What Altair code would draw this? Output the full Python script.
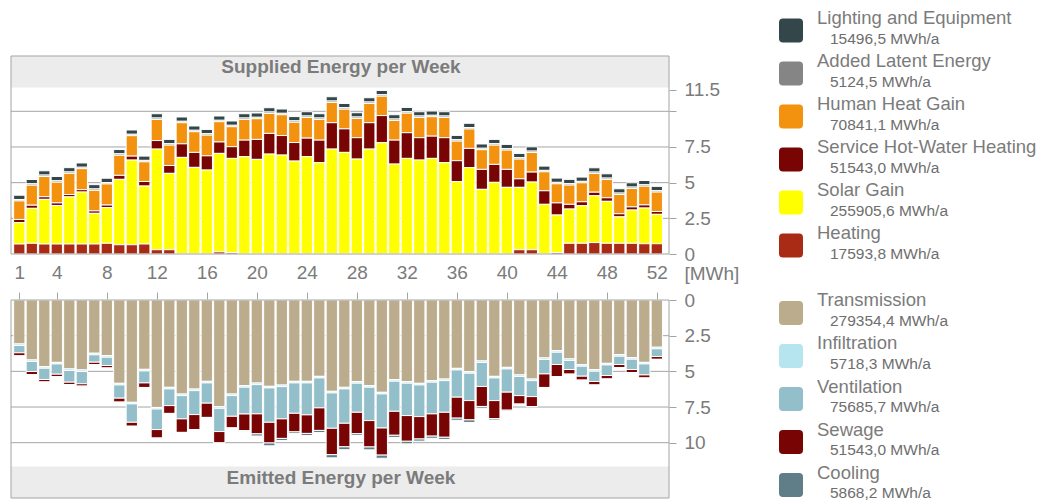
import altair as alt
import pandas as pd

# ---------------- data ----------------
WEEKS = list(range(1, 53))

HEATING = [0.7, 0.75, 0.7, 0.7, 0.7, 0.7, 0.7, 0.75, 0.65, 0.65,
           0.7, 0.3, 0.3, 0.03, 0.02, 0.02, 0.15, 0.1, 0, 0,
           0, 0, 0, 0, 0, 0, 0, 0, 0, 0,
           0, 0, 0, 0, 0, 0, 0, 0, 0, 0,
           0.3, 0.3, 0.03, 0.1, 0.75, 0.75, 0.8, 0.75, 0.75, 0.75,
           0.72, 0.72]
SOLAR = [1.5, 2.45, 3.13, 2.7, 3.3, 3.64, 2.15, 2.5, 4.58, 5.93,
         4.06, 7.05, 5.35, 6.74, 6.05, 5.86, 6.9, 6.6, 6.82, 6.63,
         7.0, 6.93, 6.51, 6.82, 6.4, 7.35, 7.12, 6.65, 7.35, 7.8,
         6.3, 6.7, 6.58, 6.7, 6.4, 5.07, 6.05, 4.53, 5.02, 4.67,
         4.37, 4.74, 3.45, 2.63, 2.4, 2.63, 3.28, 2.94, 1.85, 2.33,
         2.5, 2.06]
HOT_WATER = [0.22, 0.22, 0.18, 0.18, 0.17, 0.17, 0.17, 0.18, 0.28, 0.28,
             0.32, 0.6, 0.55, 0.95, 1.05, 1.0, 0.8, 0.82, 1.16, 1.4,
             1.45, 1.37, 1.3, 1.3, 1.58, 1.85, 1.65, 1.5, 1.85, 1.9,
             1.68, 1.8, 1.57, 1.56, 1.75, 1.47, 1.35, 1.4, 1.26, 1.26,
             0.6, 0.7, 0.95, 0.85, 0.33, 0.28, 0.25, 0.25, 0.22, 0.22,
             0.22, 0.2]
HUMAN = [1.3, 1.4, 1.42, 1.45, 1.48, 1.47, 1.44, 1.48, 1.41, 1.43,
         1.38, 1.48, 1.43, 1.48, 1.45, 1.45, 1.42, 1.4, 1.45, 1.45,
         1.4, 1.46, 1.42, 1.45, 1.45, 1.42, 1.38, 1.35, 1.35, 1.36,
         1.38, 1.37, 1.42, 1.36, 1.42, 1.37, 1.36, 1.38, 1.35, 1.35,
         1.38, 1.37, 1.33, 1.34, 1.35, 1.33, 1.31, 1.28, 1.35, 1.29,
         1.31, 1.36]
LATENT = [0.1, 0.1, 0.1, 0.1, 0.1, 0.1, 0.1, 0.1, 0.1, 0.1,
          0.1, 0.1, 0.1, 0.1, 0.1, 0.1, 0.1, 0.1, 0.1, 0.1,
          0.1, 0.1, 0.1, 0.1, 0.1, 0.1, 0.1, 0.1, 0.1, 0.1,
          0.1, 0.1, 0.1, 0.1, 0.1, 0.1, 0.1, 0.1, 0.1, 0.1,
          0.1, 0.1, 0.1, 0.1, 0.1, 0.1, 0.1, 0.1, 0.1, 0.1,
          0.1, 0.1]
LIGHTING = [0.3, 0.3, 0.3, 0.3, 0.3, 0.3, 0.3, 0.3, 0.3, 0.3,
            0.3, 0.3, 0.3, 0.3, 0.3, 0.3, 0.3, 0.3, 0.3, 0.3,
            0.3, 0.3, 0.3, 0.3, 0.3, 0.3, 0.3, 0.3, 0.3, 0.3,
            0.3, 0.3, 0.3, 0.3, 0.3, 0.3, 0.3, 0.3, 0.3, 0.3,
            0.3, 0.3, 0.3, 0.3, 0.3, 0.3, 0.3, 0.3, 0.3, 0.3,
            0.3, 0.3]

TRANSMISSION = [3.08, 4.2, 4.67, 4.37, 4.83, 4.9, 3.73, 3.9, 5.84, 7.17,
                4.86, 7.53, 6.12, 6.59, 6.24, 5.7, 7.48, 6.59, 6.0, 5.82,
                6.05, 5.96, 5.7, 5.7, 5.35, 6.4, 6.12, 5.72, 6.0, 6.47,
                5.58, 5.72, 5.84, 5.65, 5.54, 4.79, 5.02, 4.27, 5.35, 4.72,
                5.25, 5.54, 4.06, 3.55, 4.13, 4.53, 4.88, 4.44, 3.83, 4.04,
                4.37, 3.31]
INFILTRATION = [0.11, 0.11, 0.11, 0.11, 0.11, 0.11, 0.11, 0.11, 0.11, 0.11,
                0.11, 0.11, 0.11, 0.11, 0.11, 0.11, 0.11, 0.11, 0.11, 0.11,
                0.11, 0.11, 0.11, 0.11, 0.11, 0.11, 0.11, 0.11, 0.11, 0.11,
                0.11, 0.11, 0.11, 0.11, 0.11, 0.11, 0.11, 0.11, 0.11, 0.11,
                0.11, 0.11, 0.11, 0.11, 0.11, 0.11, 0.11, 0.11, 0.11, 0.11,
                0.11, 0.11]
VENTILATION = [0.51, 0.7, 0.79, 0.72, 0.82, 0.86, 0.52, 0.58, 0.93, 1.29,
               0.84, 1.44, 1.17, 1.63, 1.68, 1.42, 1.63, 1.45, 1.88, 2.05,
               2.41, 2.26, 2.13, 2.24, 2.1, 2.48, 2.41, 2.04, 2.34, 2.39,
               2.11, 2.27, 2.22, 2.22, 2.22, 1.91, 1.92, 1.68, 1.59, 1.63,
               1.34, 1.12, 1.01, 0.86, 0.63, 0.7, 0.72, 0.74, 0.58, 0.72,
               0.77, 0.54]
SEWAGE = [0.22, 0.22, 0.18, 0.18, 0.17, 0.17, 0.17, 0.18, 0.28, 0.28,
          0.32, 0.6, 0.55, 0.95, 1.05, 1.0, 0.8, 0.82, 1.16, 1.4,
          1.45, 1.37, 1.3, 1.3, 1.58, 1.85, 1.65, 1.5, 1.85, 1.9,
          1.68, 1.8, 1.57, 1.56, 1.75, 1.47, 1.35, 1.4, 1.26, 1.26,
          0.6, 0.7, 0.95, 0.85, 0.33, 0.28, 0.25, 0.25, 0.22, 0.22,
          0.22, 0.2]
COOLING = [0, 0, 0, 0, 0, 0, 0, 0, 0, 0,
           0, 0, 0, 0, 0, 0, 0, 0, 0.06, 0.15,
           0.2, 0.15, 0.12, 0.15, 0.15, 0.22, 0.2, 0.12, 0.2, 0.22,
           0.15, 0.18, 0.15, 0.15, 0.15, 0.15, 0.18, 0.12, 0.1, 0.06,
           0, 0, 0, 0, 0, 0, 0, 0, 0, 0,
           0, 0]

SUPPLIED_NAMES = ["Lighting and Equipment", "Added Latent Energy", "Human Heat Gain",
                  "Service Hot-Water Heating", "Solar Gain", "Heating"]
SUPPLIED_TOTALS = ["15496,5 MWh/a", "5124,5 MWh/a", "70841,1 MWh/a",
                   "51543,0 MWh/a", "255905,6 MWh/a", "17593,8 MWh/a"]
SUPPLIED_COLORS = ["#33474b", "#858585", "#f2920f", "#790404", "#ffff00", "#a92b15"]

EMITTED_NAMES = ["Transmission", "Infiltration", "Ventilation", "Sewage", "Cooling"]
EMITTED_TOTALS = ["279354,4 MWh/a", "5718,3 MWh/a", "75685,7 MWh/a",
                  "51543,0 MWh/a", "5868,2 MWh/a"]
EMITTED_COLORS = ["#bcac8e", "#b6e4ef", "#93bfcb", "#790404", "#5f7e87"]

X_TICKS = [1, 4, 8, 12, 16, 20, 24, 28, 32, 36, 40, 44, 48, 52]
TOP_TICKS = [0, 2.5, 5, 7.5, 10, 11.5]
BOTTOM_TICKS = [0, 2.5, 5, 7.5, 10]
GRID = [2.5, 5, 7.5, 10]

# ---------------- layout constants ----------------
FONT = "Liberation Sans"
PX = 14.27            # pixels per MWh
W = 658
TOP_H = 245
BOT_H = 198
FRAME_TOP = 47        # top frame start inside the top view
BAND = 31.5
XMIN, XMAX = 0.336, 52.976
TEXT_GRAY = "#7b7b7b"
LINE_GRAY = "#a4a4a4"

sup_series = [LIGHTING, LATENT, HUMAN, HOT_WATER, SOLAR, HEATING]
rows = []
for i, (name, vals) in enumerate(zip(SUPPLIED_NAMES, sup_series)):
    for w, v in zip(WEEKS, vals):
        rows.append({"week": w, "series": name, "value": v, "k": len(SUPPLIED_NAMES) - 1 - i})
sup_df = pd.DataFrame(rows)

emi_series = [TRANSMISSION, INFILTRATION, VENTILATION, SEWAGE, COOLING]
rows = []
for i, (name, vals) in enumerate(zip(EMITTED_NAMES, emi_series)):
    for w, v in zip(WEEKS, vals):
        rows.append({"week": w, "series": name, "value": v, "k": i})
emi_df = pd.DataFrame(rows)

one = pd.DataFrame({"_": [0]})
grid_df = pd.DataFrame({"g": GRID})

xs = alt.Scale(domain=[XMIN, XMAX], nice=False, zero=False, padding=0)
ys_top = alt.Scale(domain=[0, TOP_H / PX], nice=False, zero=False)
ys_bot = alt.Scale(domain=[0, BOT_H / PX], nice=False, zero=False, reverse=True)

bar_mark = dict(width=11.3, stroke="white", strokeWidth=1)


def y_axis(values, expr):
    return alt.Axis(orient="right", values=values, title=None, grid=False, domain=False,
                    tickSize=7, tickColor=LINE_GRAY, labelColor=TEXT_GRAY, labelFontSize=19,
                    labelFont=FONT, labelPadding=8, labelExpr=expr)


TOP_AXIS_EXPR = "datum.value == 10 ? '' : '' + datum.value"
BOT_AXIS_EXPR = "'' + datum.value"

# ---------------- top panel ----------------
band_top = alt.Chart(one).mark_rect(color="#ececec").encode(
    x=alt.value(0), x2=alt.value(W), y=alt.value(FRAME_TOP), y2=alt.value(FRAME_TOP + BAND))
grid_top = alt.Chart(grid_df).mark_rule(color=LINE_GRAY, strokeWidth=1).encode(
    y=alt.Y("g:Q", scale=ys_top, axis=y_axis(TOP_TICKS, TOP_AXIS_EXPR)),
    x=alt.value(0), x2=alt.value(W))
bars_top = alt.Chart(sup_df).mark_bar(**bar_mark).encode(
    x=alt.X("week:Q", scale=xs, axis=None),
    y=alt.Y("value:Q", stack="zero", scale=ys_top, axis=y_axis(TOP_TICKS, TOP_AXIS_EXPR)),
    color=alt.Color("series:N", scale=alt.Scale(domain=SUPPLIED_NAMES, range=SUPPLIED_COLORS), legend=None),
    order=alt.Order("k:Q", sort="ascending"),
)
frame_top = alt.Chart(one).mark_rect(fillOpacity=0, stroke=LINE_GRAY, strokeWidth=1).encode(
    x=alt.value(0), x2=alt.value(W), y=alt.value(FRAME_TOP), y2=alt.value(TOP_H))
title_top = alt.Chart(one).mark_text(
    text="Supplied Energy per Week", font=FONT, fontSize=19, fontWeight="bold", color=TEXT_GRAY,
    align="center", baseline="alphabetic").encode(x=alt.value(W / 2 + 1), y=alt.value(FRAME_TOP + 17.3))
top = alt.layer(band_top, grid_top, bars_top, frame_top, title_top).properties(width=W, height=TOP_H)

# ---------------- bottom panel ----------------
band_bot = alt.Chart(one).mark_rect(color="#ececec").encode(
    x=alt.value(0), x2=alt.value(W), y=alt.value(BOT_H - BAND), y2=alt.value(BOT_H))
grid_bot = alt.Chart(grid_df).mark_rule(color=LINE_GRAY, strokeWidth=1).encode(
    y=alt.Y("g:Q", scale=ys_bot, axis=y_axis(BOTTOM_TICKS, BOT_AXIS_EXPR)),
    x=alt.value(0), x2=alt.value(W))
bars_bot = alt.Chart(emi_df).mark_bar(**bar_mark).encode(
    x=alt.X("week:Q", scale=xs,
            axis=alt.Axis(orient="top", values=X_TICKS, format="d", grid=False, domain=False,
                          tickSize=8, tickColor=LINE_GRAY, labelColor=TEXT_GRAY, labelFontSize=19,
                          labelFont=FONT, labelPadding=10, labelFlush=False, labelOverlap=False,
                          title="[MWh]", titleX=673, titleY=-27, titleAlign="left",
                          titleBaseline="middle", titleAngle=0, titleFontSize=19,
                          titleFontWeight="normal", titleColor=TEXT_GRAY, titleFont=FONT)),
    y=alt.Y("value:Q", stack="zero", scale=ys_bot, axis=y_axis(BOTTOM_TICKS, BOT_AXIS_EXPR)),
    color=alt.Color("series:N", scale=alt.Scale(domain=EMITTED_NAMES, range=EMITTED_COLORS), legend=None),
    order=alt.Order("k:Q", sort="ascending"),
)
frame_bot = alt.Chart(one).mark_rect(fillOpacity=0, stroke=LINE_GRAY, strokeWidth=1).encode(
    x=alt.value(0), x2=alt.value(W), y=alt.value(0), y2=alt.value(BOT_H))
title_bot = alt.Chart(one).mark_text(
    text="Emitted Energy per Week", font=FONT, fontSize=19, fontWeight="bold", color=TEXT_GRAY,
    align="center", baseline="alphabetic").encode(x=alt.value(W / 2 + 1), y=alt.value(BOT_H - BAND + 17))
bottom = alt.layer(band_bot, grid_bot, bars_bot, frame_bot, title_bot).properties(width=W, height=BOT_H)

# ---------------- legends ----------------
ROUNDED = ("M -0.67,-1 L 0.67,-1 Q 1,-1 1,-0.67 L 1,0.67 Q 1,1 0.67,1 "
           "L -0.67,1 Q -1,1 -1,0.67 L -1,-0.67 Q -1,-1 -0.67,-1 Z")


def legend(names, totals, colors, height, pad):
    df = pd.DataFrame({"name": names, "total": totals, "color": colors,
                       "row": list(range(len(names)))})
    base = alt.Chart(df).encode(y=alt.Y("row:O", axis=None, scale=alt.Scale(padding=pad)))
    sq = base.mark_point(shape=ROUNDED, filled=True, size=576, opacity=1, strokeWidth=0).encode(
        x=alt.value(22), color=alt.Color("color:N", scale=None))
    t1 = base.mark_text(align="left", baseline="alphabetic", font=FONT, fontSize=18.5,
                        color=TEXT_GRAY, dy=-6.5).encode(x=alt.value(48), text="name:N")
    t2 = base.mark_text(align="left", baseline="alphabetic", font=FONT, fontSize=15.5,
                        color="#6e6e6e", dy=13.3).encode(x=alt.value(61), text="total:N")
    return alt.layer(sq, t1, t2).properties(width=250, height=height)


leg_top = legend(SUPPLIED_NAMES, SUPPLIED_TOTALS, SUPPLIED_COLORS, 258, 0.5)
leg_bot = legend(EMITTED_NAMES, EMITTED_TOTALS, EMITTED_COLORS, BOT_H, 0.3023)

chart = (
    alt.concat(top, leg_top, bottom, leg_bot, columns=2, bounds="flush",
               spacing=alt.RowColnumber(row=33, column=100))
    .resolve_scale(color="independent")
    .properties(padding={"left": 2, "top": 0, "right": 0, "bottom": 0})
    .configure(font=FONT)
    .configure_view(stroke="transparent")
)

chart.save("out.html", embed_options={"renderer": "svg", "actions": False})
